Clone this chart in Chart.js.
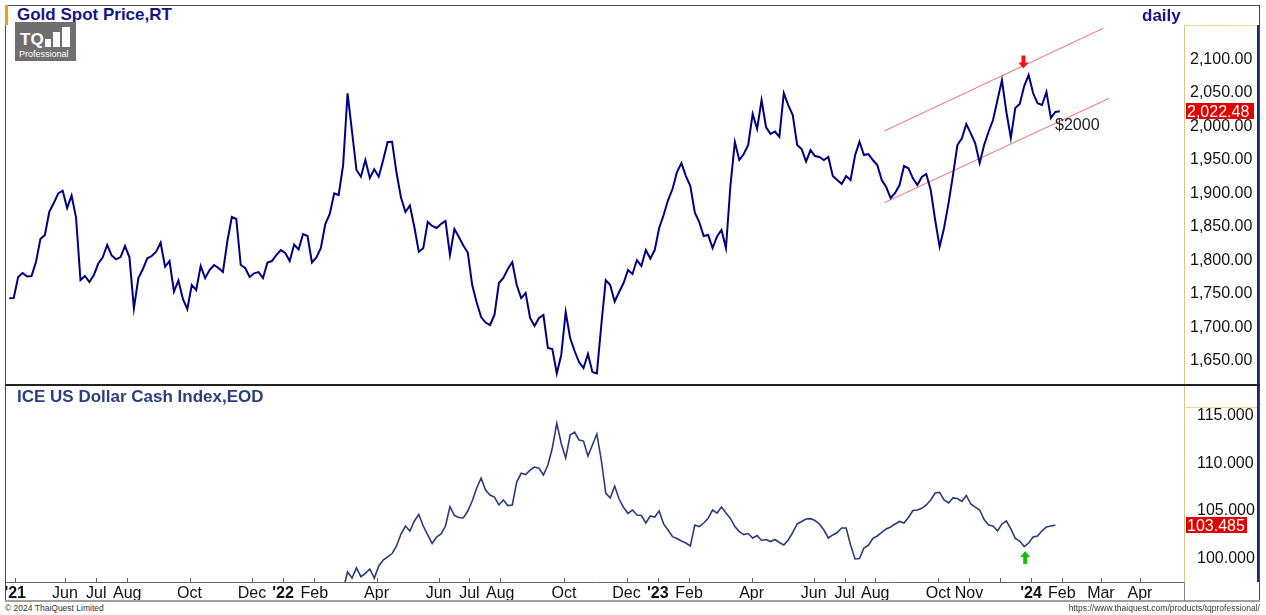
<!DOCTYPE html>
<html>
<head>
<meta charset="utf-8">
<title>Gold Spot Price vs ICE US Dollar Cash Index</title>
<script src="https://cdn.jsdelivr.net/npm/chart.js@4.4.1/dist/chart.umd.min.js"></script>
<style>
  body { margin: 0; background: #fff; font-family: "Liberation Sans", Arial, sans-serif; }
  #page { position: relative; width: 1266px; height: 615px; overflow: hidden; background: #fff; }
  canvas { position: absolute; }
  .ln { position: absolute; pointer-events: none; }
  .txt { position: absolute; white-space: nowrap; }
  .title { font-weight: bold; font-size: 17px; line-height: 19px; }
  .foot { font-size: 8.5px; line-height: 10px; color: #333; }
  #logo { position: absolute; left: 15px; top: 22px; width: 61px; height: 39px; background: #6f6f6f; }
  #logo .bar { position: absolute; background: #fff; }
</style>
</head>
<body>
<div id="page">
  <canvas id="goldChart" width="1252" height="360" style="left:6px;top:25px"></canvas>
  <canvas id="dxyChart" width="1252" height="216" style="left:6px;top:385px"></canvas>

  <!-- frame -->
  <div class="ln" style="left:5px;top:5px;width:1255px;height:1px;background:#4a4a4a"></div>
  <div class="ln" style="left:5px;top:5px;width:1px;height:596px;background:#4a4a4a"></div>
  <div class="ln" style="left:1259px;top:5px;width:1px;height:596px;background:#4a4a4a"></div>
  <div class="ln" style="left:1257px;top:25px;width:2px;height:557px;background:#1c2a78"></div>
  <div class="ln" style="left:5px;top:384px;width:1255px;height:2px;background:#222"></div>
  <div class="ln" style="left:1184px;top:25px;width:73px;height:1px;background:#eadb9c"></div>
  <div class="ln" style="left:1184px;top:407px;width:73px;height:1px;background:#eadb9c"></div>
  <div class="ln" style="left:5px;top:600px;width:1255px;height:2px;background:#a0a0a0"></div>
  <div class="ln" style="left:1184px;top:582px;width:1px;height:19px;background:#888"></div>
  <div class="ln" style="left:5px;top:5px;width:3px;height:20px;background:#f39c12"></div>

  <!-- titles -->
  <div class="txt title" style="left:17px;top:5px;color:#15158a">Gold Spot Price,RT</div>
  <div class="txt title" style="left:1142px;top:6px;color:#15158a">daily</div>
  <div class="txt title" style="left:17px;top:387px;color:#2c3e80">ICE US Dollar Cash Index,EOD</div>

  <div id="logo">
    <div class="txt" style="left:5px;top:9px;color:#fff;font-weight:bold;font-size:17px;line-height:17px">TQ</div>
    <div class="bar" style="left:30px;top:17px;width:6px;height:8px"></div>
    <div class="bar" style="left:38px;top:10px;width:7px;height:15px"></div>
    <div class="bar" style="left:47px;top:5px;width:8px;height:20px"></div>
    <div class="txt" style="left:4px;top:28px;color:#fff;font-size:9px;line-height:9px">Professional</div>
  </div>

  <!-- footer -->
  <div class="txt foot" style="left:5px;top:603px">© 2024 ThaiQuest Limited</div>
  <div class="txt foot" style="right:6px;top:603px">https://www.thaiquest.com/products/tqprofessional/</div>
</div>

<script>
// x unit = trading session, session 0 = first gold point
const xMin = -2.2;
const xMax = 791.7;

const goldStart = 0;
const goldStep = 3;
const goldPrices = [
  1743.5,1744,1775.3,1781.2,1776,1776.8,1797.6,1832,1838,1872.7,1885.6,1900.1,1904,1878.2,1896.8,1864,
  1770.8,1776.8,1767.8,1778.3,1795.4,1804.7,1823,1807.4,1801.7,1805.1,1821.5,1804.7,1728.6,1773.8,1786.8,1803.2,
  1806.6,1813,1826.4,1790.6,1799.1,1753.4,1770.1,1742.5,1727.5,1763.3,1755.9,1791.7,1773.8,1785.7,1793.2,1788.7,
  1782.7,1829,1864.8,1861.8,1793.2,1788.7,1775.3,1780.8,1782.7,1773.8,1796.9,1799.1,1808.1,1815.5,1811.1,1799.1,
  1823.8,1816.3,1839.4,1836.4,1796.9,1804.4,1818.5,1854.3,1869.3,1900.1,1897.6,1942.3,2049.3,1992,1934.9,1924.9,
  1949.8,1923,1935.9,1924.9,1949.8,1976.6,1977.1,1930.4,1893.9,1872.2,1881.9,1849.9,1813,1818.1,1857.3,1851.4,
  1848.4,1854.3,1858.8,1808.1,1846.9,1835,1822.3,1811.8,1763.3,1737.3,1715.6,1707.4,1703.7,1718.6,1766.3,1773.8,
  1787.2,1797.6,1763.3,1743.9,1751.4,1714.1,1702.2,1714.1,1718.6,1669.4,1667.9,1631.6,1659,1723.1,1684.3,1664.9,
  1648.5,1639.5,1660.4,1633.6,1631.6,1703.7,1770.8,1763.3,1738.7,1752.9,1766.3,1785.7,1779.8,1800.6,1791.7,1815.5,
  1802.9,1815.5,1848.4,1867.8,1890.1,1906.5,1931.9,1945.3,1925.9,1911,1871.5,1857.3,1836.4,1837.9,1818.5,1835.7,
  1845.4,1818.5,1911,1976.6,1949.8,1958.7,1972.2,2018.4,1996,2039.3,1999,1988.6,1992.3,1984.5,2049.7,2031.8,
  2017,1972.2,1966.2,1947.3,1964.7,1955.8,1954.3,1949.8,1954.3,1925.9,1920,1914,1925.9,1920,1956.5,1977.1,
  1957.3,1958.7,1949.8,1942.3,1920,1909.5,1893.1,1900.6,1912.5,1940.8,1937.4,1922.5,1912.5,1924.4,1928.9,1905.1,
  1860.3,1820.5,1848.4,1885.2,1927.4,1972.2,1982.2,2003.5,1989.6,1974.7,1945.3,1972.2,1992,2009.5,2039.3,2069.1,
  2021.4,1982.6,2027.4,2033.3,2060.2,2076.6,2049.7,2034.4,2031.8,2051.2,2012.4,2021.4,2022.48
];

const dxyStart = 225;
const dxyStep = 3;
const dxyValues = [
  96.66,98.56,97.92,98.98,98.06,98.42,98.87,97.89,99.19,99.82,100.14,100.50,101.30,102.56,103.40,102.88,
  103.93,104.62,103.40,102.46,101.56,102.24,102.56,103.40,105.44,104.51,104.30,104.25,104.98,106.04,107.41,108.46,
  107.20,106.67,106.46,105.62,106.15,105.56,105.62,108.04,108.96,108.83,109.30,109.62,109.49,108.78,109.83,111.63,
  114.23,112.10,110.57,112.99,113.31,112.47,112.36,110.78,111.94,113.10,110.36,106.88,106.36,107.62,106.25,105.36,
  104.74,105.09,104.56,104.51,103.72,104.46,104.35,104.98,103.62,102.98,102.28,102.09,101.82,101.61,101.30,103.51,
  103.35,103.72,104.21,105.09,104.77,105.40,104.77,104.20,103.35,102.82,102.50,102.61,102.14,102.40,101.88,101.98,
  101.77,101.98,101.67,101.40,101.93,102.72,103.62,103.88,104.14,104.18,103.98,103.62,102.98,102.14,102.46,102.72,
  103.19,103.19,101.40,99.93,99.97,101.08,101.37,102.11,102.35,102.72,103.09,103.30,103.62,103.88,103.72,104.30,
  105.04,105.09,105.27,105.62,106.15,106.88,106.94,106.15,105.83,106.36,106.30,105.99,106.62,105.72,105.40,105.09,
  104.09,103.51,103.40,102.88,103.62,103.93,103.09,102.09,101.82,101.24,101.61,102.24,102.35,102.9,103.3,103.4,
  103.485
];

const monthTicks = [4, 37.5, 58.6, 79.5, 121.5, 163.6, 184.5, 205.6, 247.5, 289.3, 310.1, 330.9, 373.9, 416.0,
  437.1, 458.1, 500.3, 542.1, 563.1, 583.6, 626.0, 646.8, 667.9, 688.6, 709.4, 735.7, 762.0];
const monthLabels = ["'21", "Jun", "Jul", "Aug", "Oct", "Dec", "'22", "Feb", "Apr", "Jun", "Jul", "Aug", "Oct", "Dec",
  "'23", "Feb", "Apr", "Jun", "Jul", "Aug", "Oct", "Nov", "", "'24", "Feb", "Mar", "Apr"];

const goldTicks = [1650, 1700, 1750, 1800, 1850, 1900, 1950, 2000, 2050, 2100];
const dxyTicks = [100, 105, 110, 115];

// trend channel (session, price)
const channelUpper = [[589.7, 1993.1], [737.1, 2146.2]];
const channelLower = [[589.7, 1886.1], [741.2, 2041.8]];
const goldNote = { x: 704.8, y: 2001, text: '$2000' };
const goldArrow = { x: 683.5, y: 2086.3 };
const dxyArrow = { x: 684.7, y: 100.77 };

const FONT = '"Liberation Sans", Arial, sans-serif';

function toPoints(values, start, step) {
  return values.map((v, i) => ({ x: start + i * step, y: v }));
}

function fixedY(width, ticks, pad) {
  return {
    position: 'right',
    afterBuildTicks: s => { s.ticks = ticks.map(v => ({ value: v })); },
    afterFit: s => { s.width = width; s.paddingTop = 0; s.paddingBottom = 0; },
    grid: { display: true, drawOnChartArea: false, drawTicks: false },
    border: { display: true, color: '#d6c68a', dash: [1, 2] },
    ticks: { padding: pad, color: '#111', font: { family: FONT, size: 16 } }
  };
}

// last value tag + markers
function drawTag(chart, value, text, w) {
  const { ctx, chartArea, scales } = chart;
  const py = scales.y.getPixelForValue(value);
  ctx.save();
  ctx.fillStyle = '#e00000';
  ctx.fillRect(chartArea.right + 2, Math.round(py) - 8, w, 16);
  ctx.fillStyle = '#fff';
  ctx.font = '16px ' + FONT;
  ctx.textBaseline = 'middle';
  ctx.textAlign = 'left';
  ctx.fillText(text, chartArea.right + 3, py + 1);
  ctx.restore();
}

function drawArrow(ctx, x, tipY, dir, color) {
  // dir = 1 points down, -1 points up
  ctx.save();
  ctx.fillStyle = color;
  ctx.beginPath();
  ctx.moveTo(x, tipY);
  ctx.lineTo(x - 5, tipY - dir * 6);
  ctx.lineTo(x - 2, tipY - dir * 6);
  ctx.lineTo(x - 2, tipY - dir * 13);
  ctx.lineTo(x + 2, tipY - dir * 13);
  ctx.lineTo(x + 2, tipY - dir * 6);
  ctx.lineTo(x + 5, tipY - dir * 6);
  ctx.closePath();
  ctx.fill();
  ctx.restore();
}

const goldMarks = {
  id: 'goldMarks',
  afterDraw(chart) {
    const { ctx, scales: { x, y } } = chart;
    ctx.save();
    ctx.font = '16px ' + FONT;
    ctx.fillStyle = '#222';
    ctx.textBaseline = 'middle';
    ctx.fillText(goldNote.text, x.getPixelForValue(goldNote.x), y.getPixelForValue(goldNote.y));
    ctx.restore();
    drawArrow(ctx, x.getPixelForValue(goldArrow.x), y.getPixelForValue(goldArrow.y), 1, '#ff1010');
    const last = goldPrices[goldPrices.length - 1];
    drawTag(chart, last, last.toLocaleString('en-US', { minimumFractionDigits: 2 }), 68);
  }
};

const dxyMarks = {
  id: 'dxyMarks',
  afterDraw(chart) {
    const { ctx, chartArea, scales: { x, y } } = chart;
    ctx.save();
    ctx.strokeStyle = '#666';
    ctx.lineWidth = 1;
    x.ticks.forEach(t => {
      const px = Math.round(x.getPixelForValue(t.value)) + 0.5;
      ctx.beginPath();
      ctx.moveTo(px, chartArea.bottom);
      ctx.lineTo(px, chartArea.bottom - 4);
      ctx.stroke();
    });
    ctx.restore();
    drawArrow(ctx, x.getPixelForValue(dxyArrow.x), y.getPixelForValue(dxyArrow.y), -1, '#10c010');
    const last = dxyValues[dxyValues.length - 1];
    drawTag(chart, last, last.toFixed(3), 61);
  }
};

new Chart(document.getElementById('goldChart'), {
  type: 'line',
  data: {
    datasets: [
      { data: toPoints(goldPrices, goldStart, goldStep), borderColor: '#000080', borderWidth: 2, pointRadius: 0, tension: 0 },
      { data: channelUpper.map(p => ({ x: p[0], y: p[1] })), borderColor: '#ff6a6a', borderWidth: 1, pointRadius: 0 },
      { data: channelLower.map(p => ({ x: p[0], y: p[1] })), borderColor: '#ff6a6a', borderWidth: 1, pointRadius: 0 }
    ]
  },
  options: {
    responsive: false,
    animation: false,
    events: [],
    layout: { padding: 0 },
    plugins: { legend: { display: false }, tooltip: { enabled: false } },
    scales: {
      x: { type: 'linear', min: xMin, max: xMax, display: false },
      y: Object.assign(fixedY(74, goldTicks, 6), {
        min: 1614.2, max: 2151.2,
        ticks: { padding: 6, color: '#111', font: { family: FONT, size: 16 },
          callback: v => v.toLocaleString('en-US', { minimumFractionDigits: 2, maximumFractionDigits: 2 }) }
      })
    }
  },
  plugins: [goldMarks]
});

new Chart(document.getElementById('dxyChart'), {
  type: 'line',
  data: {
    datasets: [
      { data: toPoints(dxyValues, dxyStart, dxyStep), borderColor: '#2b3c7c', borderWidth: 1.6, pointRadius: 0, tension: 0 }
    ]
  },
  options: {
    responsive: false,
    animation: false,
    events: [],
    layout: { padding: 0 },
    plugins: { legend: { display: false }, tooltip: { enabled: false } },
    scales: {
      x: {
        type: 'linear', min: xMin, max: xMax,
        afterBuildTicks: s => { s.ticks = monthTicks.map(v => ({ value: v })); },
        afterFit: s => { s.height = 19; s.paddingLeft = 0; s.paddingRight = 0; },
        grid: { display: true, drawOnChartArea: false, drawTicks: false },
        border: { display: true, color: '#666' },
        ticks: {
          autoSkip: false, maxRotation: 0, padding: 2, color: '#111',
          font: ctx => ({ family: FONT, size: 16, weight: (ctx.tick && ctx.tick.label && ctx.tick.label[0] === "'") ? 'bold' : 'normal' }),
          callback: (v, i) => monthLabels[i]
        }
      },
      y: Object.assign(fixedY(74, dxyTicks, 13), {
        min: 97.5, max: 118.27,
        ticks: { padding: 13, color: '#111', font: { family: FONT, size: 16 }, callback: v => v.toFixed(3) }
      })
    }
  },
  plugins: [dxyMarks]
});
</script>
</body>
</html>
